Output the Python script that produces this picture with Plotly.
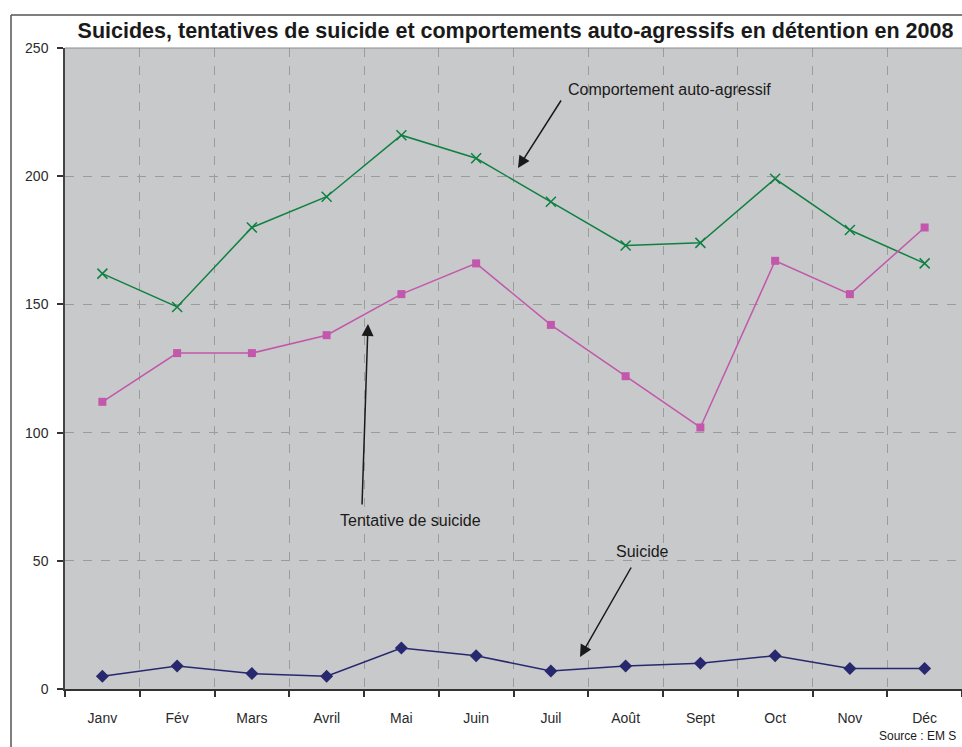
import plotly.graph_objects as go

months = ["Janv", "Fév", "Mars", "Avril", "Mai", "Juin", "Juil", "Août", "Sept", "Oct", "Nov", "Déc"]
auto_agressif = [162, 149, 180, 192, 216, 207, 190, 173, 174, 199, 179, 166]
tentative = [112, 131, 131, 138, 154, 166, 142, 122, 102, 167, 154, 180]
suicide = [5, 9, 6, 5, 16, 13, 7, 9, 10, 13, 8, 8]
y_ticks = [0, 50, 100, 150, 200, 250]

W, H = 962, 747
L, R, T, B = 65, 0, 48, 58
PW, PH = W - L - R, H - T - B


def px(x):
    return (x - L) / PW


def py(y):
    return (H - B - y) / PH


FONT = "Liberation Sans, Arial, sans-serif"

fig = go.Figure()
fig.add_trace(go.Scatter(
    x=months, y=auto_agressif, mode="lines+markers", name="Comportement auto-agressif",
    line=dict(color="#0f8042", width=1.5),
    marker=dict(symbol="x-thin-open", size=10, color="#0f8042", line=dict(color="#0f8042", width=1.5)),
))
fig.add_trace(go.Scatter(
    x=months, y=tentative, mode="lines+markers", name="Tentative de suicide",
    line=dict(color="#c257ab", width=1.5),
    marker=dict(symbol="square", size=8, color="#c257ab"),
))
fig.add_trace(go.Scatter(
    x=months, y=suicide, mode="lines+markers", name="Suicide",
    line=dict(color="#28286e", width=1.5),
    marker=dict(symbol="diamond", size=10, color="#28286e"),
))

annotations = []
# label texts
for text, cx, cy in [("Comportement auto-agressif", 669, 89),
                     ("Tentative de suicide", 410, 520),
                     ("Suicide", 642, 551)]:
    annotations.append(dict(text=text, x=px(cx), y=py(cy), xref="paper", yref="paper",
                            showarrow=False, xanchor="center", yanchor="middle",
                            font=dict(family=FONT, size=16, color="#1a1a1a")))
# arrows (head, tail)
for (hx, hy), (tx, ty) in [((518, 168), (562, 99)),
                           ((368, 324), (362, 506)),
                           ((580, 657), (632, 566))]:
    annotations.append(dict(text="", x=px(hx), y=py(hy), xref="paper", yref="paper",
                            showarrow=True, ax=tx - hx, ay=ty - hy,
                            arrowhead=2, arrowsize=1.6, arrowwidth=1.5, arrowcolor="#1a1a1a",
                            standoff=0, startstandoff=0))
annotations.append(dict(text="Source : EM S", x=px(958), y=py(736), xref="paper", yref="paper",
                        showarrow=False, xanchor="right", yanchor="middle",
                        font=dict(family=FONT, size=12, color="#1a1a1a")))

shapes = [
    # outer frame
    dict(type="line", xref="paper", yref="paper", x0=px(11), x1=px(11), y0=py(15), y1=py(760),
         line=dict(color="#555555", width=1.5)),
    dict(type="line", xref="paper", yref="paper", x0=px(11), x1=px(970), y0=py(15), y1=py(15),
         line=dict(color="#555555", width=1.5)),
    # top border of plot area
    dict(type="line", xref="paper", yref="paper", x0=0, x1=1, y0=1, y1=1,
         line=dict(color="#8c8c8c", width=1.2)),
]

fig.update_layout(
    width=W, height=H,
    margin=dict(l=L, r=R, t=T, b=B),
    paper_bgcolor="white",
    plot_bgcolor="#c8c9cb",
    showlegend=False,
    font=dict(family=FONT, size=14, color="#2a2a2a"),
    title=dict(text="<b>Suicides, tentatives de suicide et comportements auto-agressifs en détention en 2008</b>",
               x=515.5 / W, xanchor="center", xref="container",
               y=1 - 30 / H, yanchor="middle",
               font=dict(family=FONT, size=21.5, color="#1a1a1a")),
    annotations=annotations,
    shapes=shapes,
)
fig.update_xaxes(
    type="category", categoryorder="array", categoryarray=months,
    tickson="boundaries", ticks="outside", ticklen=6, tickcolor="#333333", tickwidth=1.5,
    showgrid=True, gridcolor="#9c9c9c", griddash="dash", gridwidth=1,
    showline=True, linecolor="#333333", linewidth=1.5,
    range=[-0.5, 11.5], ticklabelstandoff=15,
    tickfont=dict(family=FONT, size=14, color="#2a2a2a"),
    zeroline=False,
)
fig.update_yaxes(
    range=[0, 250], tickvals=y_ticks, ticktext=[str(v) for v in y_ticks],
    ticks="outside", ticklen=6, tickcolor="#333333", tickwidth=1.5,
    showgrid=True, gridcolor="#9c9c9c", griddash="dash", gridwidth=1,
    showline=True, linecolor="#444444", linewidth=1.5,
    ticklabelstandoff=6,
    tickfont=dict(family=FONT, size=14, color="#2a2a2a"),
    zeroline=False,
)

fig.write_html("out.html")
